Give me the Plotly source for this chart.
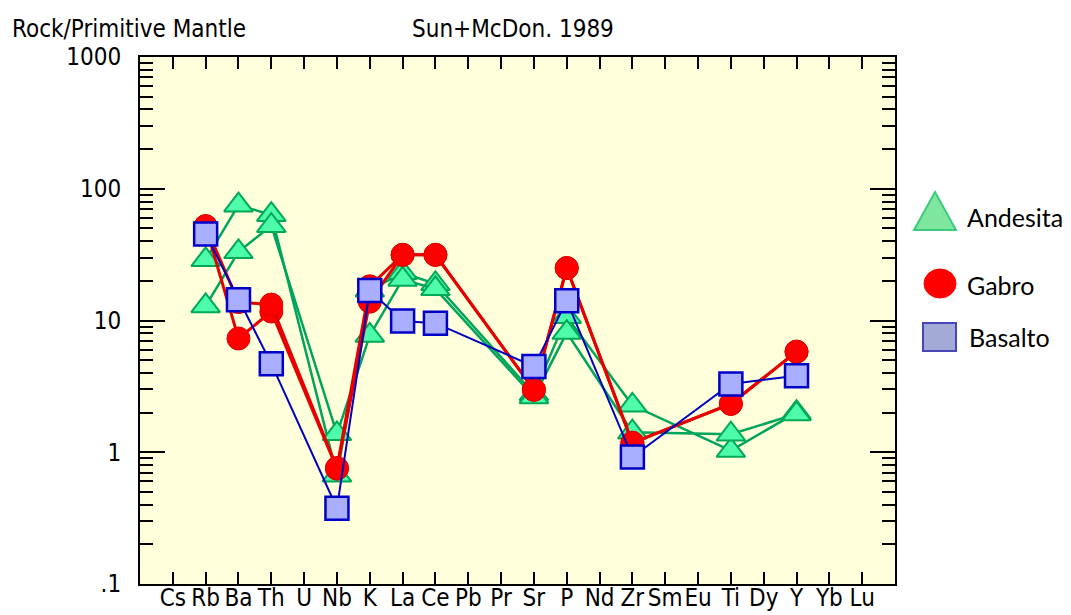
import plotly.graph_objects as go

# Element order of the primitive-mantle spider diagram
elements = ["Cs", "Rb", "Ba", "Th", "U", "Nb", "K", "La", "Ce", "Pb", "Pr",
            "Sr", "P", "Nd", "Zr", "Sm", "Eu", "Ti", "Dy", "Y", "Yb", "Lu"]

# Normalised concentrations (None = not analysed)
andesita_1 = [None, 28.9, 75.0, 63.5, None, 0.67, 17.0, 23.0, 19.0, None, None,
              2.77, 10.7, None, 2.27, None, None, 1.03, None, 2.0, None, None]
andesita_2 = [None, 12.9, 33.2, 52.4, None, 1.38, 7.7, 20.5, 17.4, None, None,
              2.63, 8.1, None, 1.42, None, None, 1.37, None, 1.95, None, None]
gabro_1 = [None, 52.0, 7.3, 11.7, None, 0.75, 13.9, 31.5, 31.5, None, None,
           2.98, 25.0, None, 1.18, None, None, 2.33, None, 5.8, None, None]
gabro_2 = [None, 52.0, 13.8, 13.2, None, 0.76, 18.2, 31.5, 31.5, None, None,
           2.98, 25.0, None, 1.18, None, None, 2.33, None, 5.8, None, None]
basalto = [None, 45.3, 14.4, 4.7, None, 0.376, 16.9, 9.9, 9.55, None, None,
           4.48, 14.1, None, 0.92, None, None, 3.3, None, 3.8, None, None]

y_ticks = [0.1, 1, 10, 100, 1000]
y_tick_labels = [".1", "1", "10", "100", "1000"]

W, H = 1071, 615
ML, MR, MT, MB = 140, 176, 57, 31
PW, PH = W - ML - MR, H - MT - MB

xpos = list(range(1, len(elements) + 1))

styles = {
    "Andesita": dict(symbol="triangle-up", size=25, fill="#4DFDAA", edge="#00A858",
                     line="#00A45A", lw=2.5, mlw=2),
    "Gabro": dict(symbol="circle", size=23, fill="#FF0000", edge="#E00000",
                  line="#E60000", lw=3, mlw=1),
    "Basalto": dict(symbol="square", size=23, fill="#AAAEFF", edge="#0000C8",
                    line="#0000C0", lw=2, mlw=2.5),
}

series = [("Andesita", andesita_1), ("Andesita", andesita_2),
          ("Gabro", gabro_1), ("Gabro", gabro_2), ("Basalto", basalto)]

fig = go.Figure()
for name, vals in series:
    s = styles[name]
    fig.add_trace(go.Scatter(
        x=xpos, y=vals, name=name, mode="lines+markers", connectgaps=True,
        showlegend=False,
        line=dict(color=s["line"], width=s["lw"]),
        marker=dict(symbol=s["symbol"], size=s["size"], color=s["fill"],
                    line=dict(color=s["edge"], width=s["mlw"])),
    ))

minor_vals = [m * 10 ** e for e in range(-1, 3) for m in range(2, 10)]

base_family = "DejaVu Sans Condensed, Liberation Sans, Arial"
x_font = dict(family=base_family, size=24, color="black")
y_font = dict(family=base_family, size=24, color="black")
title_font = dict(family=base_family, size=24, color="black")

fig.update_xaxes(
    range=[0, 23], tickmode="array", tickvals=xpos, ticktext=elements,
    ticks="inside", ticklen=12, tickwidth=2, tickcolor="black",
    showline=True, linewidth=2, linecolor="black", mirror="ticks",
    showgrid=False, zeroline=False, tickfont=x_font, tickangle=0,
    automargin=False, ticklabelstandoff=-9,
)
fig.update_yaxes(
    type="log", range=[-1, 3], tickmode="array", tickvals=y_ticks,
    ticktext=y_tick_labels, ticks="inside", ticklen=25, tickwidth=2,
    tickcolor="black", showline=True, linewidth=2, linecolor="black",
    mirror="ticks", showgrid=False, zeroline=False, tickfont=y_font,
    ticklabelstandoff=12, automargin=False,
    minor=dict(tickmode="array", tickvals=minor_vals, ticks="inside",
               ticklen=13, tickwidth=2, tickcolor="black", showgrid=False),
)


def px(x):
    return (x - ML) / PW


def py(y):
    return (H - MB - y) / PH


annotations = [
    dict(text="Rock/Primitive Mantle", x=px(10), y=py(29), xanchor="left",
         yanchor="middle"),
    dict(text="Sun+McDon. 1989", x=px(410), y=py(29), xanchor="left",
         yanchor="middle"),
]
for a in annotations:
    a.update(xref="paper", yref="paper", showarrow=False, font=title_font)

# Legend drawn as shapes with labels
legend_font = dict(family="Lato, Carlito, Open Sans", size=25, color="black")
shapes = [
    dict(type="path",
         path=f"M {px(914)},{py(230)} L {px(956)},{py(230)} L {px(935)},{py(192)} Z",
         fillcolor="#7FE6A0", line=dict(color="#3CCB7C", width=2)),
    dict(type="circle", x0=px(924), x1=px(956), y0=py(298), y1=py(269),
         fillcolor="#FF0000", line=dict(color="#FF0000", width=1)),
    dict(type="rect", x0=px(923), x1=px(956), y0=py(351), y1=py(323),
         fillcolor="#A3AAD8", line=dict(color="#4646B4", width=2)),
]
for s in shapes:
    s.update(xref="paper", yref="paper")

legend_labels = [("Andesita", 965, 217), ("Gabro", 965, 285), ("Basalto", 967, 337)]
for text, lx, ly in legend_labels:
    annotations.append(dict(text=text, x=px(lx), y=py(ly), xref="paper",
                            yref="paper", xanchor="left", yanchor="middle",
                            showarrow=False, font=legend_font))

fig.update_layout(
    width=W, height=H, margin=dict(l=ML, r=MR, t=MT, b=MB, pad=0, autoexpand=False),
    paper_bgcolor="white", plot_bgcolor="#FFFFDC",
    showlegend=False, annotations=annotations, shapes=shapes,
)

fig.write_html("out.html")
